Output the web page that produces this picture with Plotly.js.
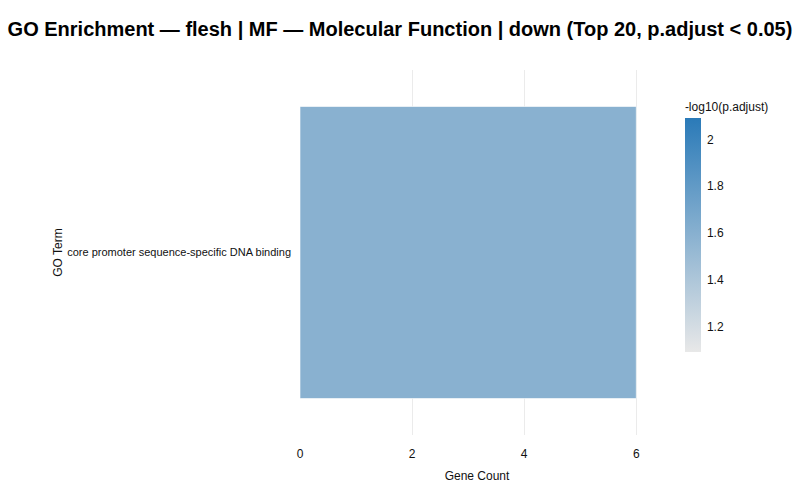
<!DOCTYPE html>
<html>
<head>
<meta charset="utf-8">
<script src="https://cdn.plot.ly/plotly-3.0.1.min.js"></script>
<style>
  html, body { margin: 0; padding: 0; background: #fff; }
  #chart { width: 800px; height: 500px; }
</style>
</head>
<body>
<div id="chart"></div>
<script>
// GO terms (top 20 after filtering, only one survives here)
const goTerms = ["core promoter sequence-specific DNA binding"];
const geneCounts = [6];
const negLog10Padj = [1.59];

const colorscale = [[0, "#e8e8e8"], [1, "#2a7ab8"]];
const fontFamily = "'Liberation Sans', Arial, Helvetica, sans-serif";

const trace = {
  type: "bar",
  orientation: "h",
  x: geneCounts,
  y: goTerms,
  marker: {
    color: negLog10Padj,
    colorscale: colorscale,
    showscale: true,
    line: { color: "rgba(255,255,255,0.6)", width: 1 },
    colorbar: {
      title: { text: "-log10(p.adjust)", side: "top", font: { size: 12, color: "#111" } },
      thickness: 16,
      len: 0.748,
      x: 1.059,
      y: 0.947,
      yanchor: "top",
      outlinewidth: 0,
      ticks: "outside",
      ticklen: 4,
      tickcolor: "rgba(0,0,0,0)",
      tickfont: { size: 12, color: "#111" },
    },
  },
  hovertemplate: "%{y}<br>Gene Count: %{x}<extra></extra>",
};

const layout = {
  width: 800,
  height: 500,
  paper_bgcolor: "#fff",
  plot_bgcolor: "#fff",
  font: { family: fontFamily, size: 12, color: "#111" },
  title: {
    text: "<b>GO Enrichment — flesh | MF — Molecular Function | down (Top 20, p.adjust < 0.05)</b>",
    font: { size: 20, color: "#000" },
    x: 0.5,
    xanchor: "center",
    y: 0.943,
    yanchor: "middle",
  },
  margin: { l: 300, r: 146, t: 70, b: 65 },
  bargap: 0.2,
  xaxis: {
    title: { text: "Gene Count", font: { size: 12 }, standoff: 11 },
    showgrid: true,
    gridcolor: "#ebebeb",
    zeroline: false,
    showline: false,
    ticks: "",
    ticklabelstandoff: 10,
    tickfont: { size: 12 },
    dtick: 2,
  },
  yaxis: {
    title: { text: "GO Term", font: { size: 12 }, standoff: 2 },
    showgrid: false,
    zeroline: false,
    showline: false,
    ticks: "",
    ticklabelstandoff: 8,
    tickfont: { size: 11 },
    automargin: false,
  },
  showlegend: false,
};

Plotly.newPlot("chart", [trace], layout, { displayModeBar: false, staticPlot: true });
</script>
</body>
</html>
